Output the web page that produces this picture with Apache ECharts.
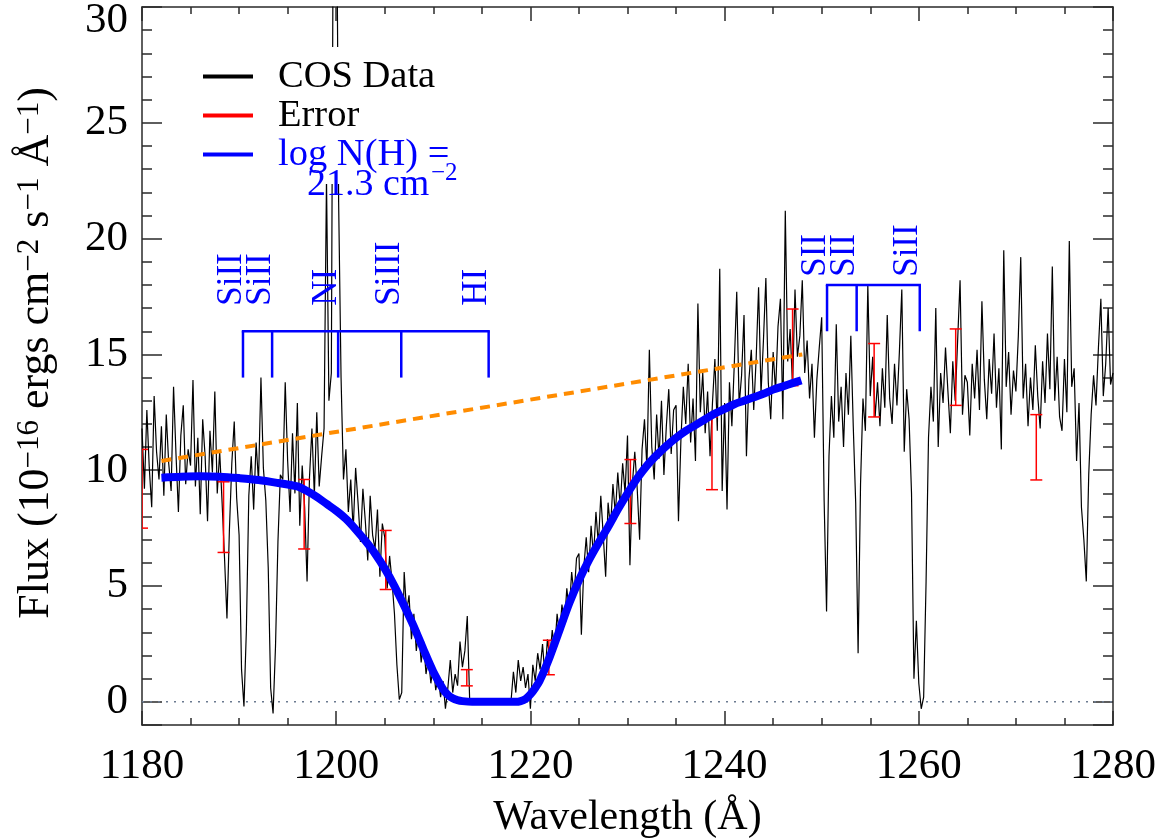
<!DOCTYPE html>
<html>
<head>
<meta charset="utf-8">
<script src="https://cdn.jsdelivr.net/npm/echarts@6/dist/echarts.min.js"></script>
<style>
html,body{margin:0;padding:0;background:#fff;}
#chart{width:1174px;height:840px;}
</style>
</head>
<body>
<div id="chart"></div>
<script>
// ---- COS spectrum: regular wavelength grid (Å) and flux values ----
const wavelengthStart = 1180;
const wavelengthStep = 0.25;
const cosFlux = [
  // 1180.00 - 1184.75
  11.8, 9.2, 12.6, 10.1, 8.4, 13.2, 10.8, 9.6, 11.9, 8.9, 12.4, 10.3, 9.1, 13.6, 10.7, 8.2, 11.5, 12.8, 9.4, 10.9,
  // 1185.00 - 1189.75
  10.2, 13.9, 9.3, 11.4, 8.1, 12.2, 10.6, 7.8, 11.7, 9.9, 13.4, 9.0, 10.8, 8.6, 6.2, 3.6, 7.4, 10.3, 12.1, 8.8,
  // 1190.00 - 1194.75
  7.2, 1.4, -0.2, 3.1, 8.9, 10.6, 8.3, 11.2, 9.5, 14.0, 10.1, 8.7, 5.8, 0.6, -0.5, 2.4, 6.9, 9.8, 9.6, 13.8,
  // 1195.00 - 1199.75
  10.4, 8.2, 11.6, 9.0, 12.9, 7.6, 10.2, 8.4, 5.2, 9.7, 11.8, 8.9, 12.5, 9.3, 10.6, 11.8, 22.6, 13.0, 14.2, 40.0,
  // 1200.00 - 1204.75
  38.0, 21.6, 14.0, 9.6, 10.9, 8.2, 9.6, 7.4, 10.1, 8.6, 6.9, 9.2, 7.8, 6.1, 8.9, 7.2, 6.6, 8.3, 5.4, 7.7,
  // 1205.00 - 1209.75
  7.1, 4.9, 6.3, 5.2, 3.8, 1.6, 0.1, 0.4, 5.6, 3.9, 4.6, 2.7, 3.8, 2.2, 3.1, 1.7, 2.6, 1.2, 1.9, 0.8,
  // 1210.00 - 1214.75
  1.6, 0.5, 1.1, 0.2, 0.9, -0.3, 0.6, 1.8, 0.4, 1.2, 0.7, 2.6, 1.5, 2.2, 3.7, 0, 0, 0, 0, 0,
  // 1215.00 - 1219.75
  0, 0, 0, 0, 0, 0, 0, 0, 0, 0, 0, 0, 0, 1.3, 0.4, 1.8, 0.9, 1.5, 0.6, 1.2,
  // 1220.00 - 1224.75
  -0.3, 1.6, 0.9, 2.1, 1.4, 2.5, 1.1, 2.7, 1.9, 3.1, 2.2, 3.8, 2.9, 4.2, 3.3, 4.9, 3.9, 5.6, 4.6, 6.2,
  // 1225.00 - 1229.75
  6.4, 2.9, 5.8, 7.1, 5.6, 7.6, 6.3, 8.2, 6.8, 8.9, 7.2, 5.4, 8.6, 7.5, 9.4, 8.1, 9.9, 8.4, 10.3, 9.0,
  // 1230.00 - 1234.75
  11.5, 5.9, 9.4, 10.8, 9.2, 7.0, 10.9, 12.2, 10.1, 15.2, 11.0, 9.6, 12.4, 10.5, 13.0, 9.8, 11.9, 13.5, 10.7, 12.6,
  // 1235.00 - 1239.75
  12.8, 7.8, 11.3, 13.6, 12.0, 14.6, 11.2, 13.1, 10.4, 17.2, 12.5, 14.2, 11.6, 13.4, 10.6, 12.9, 14.8, 11.7, 18.7, 9.1,
  // 1240.00 - 1244.75
  12.9, 8.3, 13.8, 11.9, 14.6, 17.7, 12.8, 14.1, 16.7, 10.6, 13.9, 15.2, 12.6, 14.8, 17.9, 13.3, 15.6, 18.3, 13.8, 12.2,
  // 1245.00 - 1249.75
  15.1, 13.4, 16.2, 17.4, 12.2, 21.2, 14.7, 16.1, 13.6, 17.8, 14.9, 15.8, 18.2, 14.2, 15.6, 13.1, 14.6, 11.4, 13.9, 15.3,
  // 1250.00 - 1254.75
  16.6, 8.7, 3.9, 10.6, 13.2, 11.4, 16.3, 12.1, 13.6, 11.0, 14.2, 12.4, 15.8, 11.9, 8.6, 2.1, 9.4, 13.1, 11.7, 18.0,
  // 1255.00 - 1259.75
  13.2, 14.9, 12.3, 13.8, 11.9, 14.4, 12.7, 16.7, 13.1, 12.0, 14.6, 12.8, 15.1, 17.8, 10.8, 13.5, 12.2, 9.0, 1.0, 3.5,
  // 1260.00 - 1264.75
  0.8, -0.3, 0.2, 5.2, 11.4, 13.6, 12.1, 17.0, 11.0, 14.2, 12.9, 15.3, 13.4, 11.6, 14.7, 13.0, 15.6, 18.2, 12.4, 14.1,
  // 1265.00 - 1269.75
  13.8, 11.5, 14.6, 13.1, 15.2, 12.6, 17.3, 13.9, 12.2, 14.8, 13.3, 15.9, 12.7, 14.4, 10.9, 19.5, 13.6, 15.1, 12.4, 14.3,
  // 1270.00 - 1274.75
  13.4, 15.8, 19.2, 13.1, 14.6, 11.9, 14.0, 12.6, 15.4, 13.2, 11.8, 14.7, 12.9, 15.9, 13.5, 18.8, 13.0, 14.9, 12.3, 11.7,
  // 1275.00 - 1280.00
  14.8, 12.5, 19.9, 13.6, 14.4, 10.4, 12.9, 8.4, 7.0, 5.2, 9.8, 12.4, 14.1, 12.8, 15.3, 17.4, 13.2, 14.6, 17.0, 13.7,
  14.2
];

// ---- Damped Lyman-alpha model, log N(H) = 21.3 ----
const modelWave = [1182, 1184, 1186, 1188, 1190, 1192, 1194, 1196, 1197, 1198, 1199, 1200, 1201, 1202, 1203, 1204,
  1205, 1206, 1207, 1208, 1209, 1210, 1211, 1211.5, 1212, 1212.5, 1213, 1214, 1216, 1218, 1218.5, 1219, 1219.5,
  1220, 1220.5, 1221, 1222, 1223, 1224, 1225, 1226, 1227, 1228, 1229, 1230, 1231, 1232, 1233, 1234, 1235, 1236,
  1237, 1238, 1239, 1240, 1241, 1242, 1243, 1244, 1245, 1246, 1247, 1247.9];
const modelFlux = [9.68, 9.72, 9.74, 9.72, 9.66, 9.58, 9.45, 9.3, 9.1, 8.85, 8.55, 8.25, 7.9, 7.45, 6.95, 6.4,
  5.75, 5.0, 4.15, 3.25, 2.25, 1.3, 0.55, 0.3, 0.15, 0.07, 0.03, 0, 0, 0, 0, 0.03, 0.12,
  0.32, 0.6, 0.95, 1.95, 3.1, 4.25, 5.25, 6.1, 6.85, 7.55, 8.3, 9.0, 9.65, 10.2, 10.65, 11.05, 11.4, 11.7,
  11.95, 12.2, 12.45, 12.65, 12.85, 13.0, 13.15, 13.3, 13.48, 13.62, 13.76, 13.88];

// ---- Unabsorbed continuum (dashed orange) ----
const continuumWave = [1182, 1248];
const continuumFlux = [10.4, 15.0];

// ---- Error bars ----
const errWave = [1180.0, 1188.4, 1196.7, 1205.1, 1213.45, 1221.9, 1230.3, 1238.7, 1247.0, 1255.4, 1263.8, 1272.1];
const errLow  = [7.5, 6.45, 6.6, 4.85, 0.69, 1.17, 7.7, 9.16, 13.65, 12.3, 12.8, 9.58];
const errHigh = [10.9, 9.5, 9.6, 7.4, 1.39, 2.66, 10.46, 12.3, 16.96, 15.47, 16.1, 12.4];

// ---- Zero level ----
const zeroWave = [1180, 1280];
const zeroFlux = [0, 0];

// ---- Line identifications ----
const leftIdWaves = [1190.4, 1193.4, 1200.2, 1206.7, 1215.7];
const leftIdLabels = ['SiII', 'SiII', 'NI', 'SiIII', 'HI'];
const leftIdLevels = [16, 14, 17.1];    // bracket, tick bottom, label base
const rightIdWaves = [1250.55, 1253.6, 1260.1];
const rightIdLabels = ['SII', 'SII', 'SiII'];
const rightIdLevels = [18, 16, 18.35];

// ---- Axis ticks ----
const xTickMin = 1180, xTickMax = 1280, xTickStep = 20;
const yMin = -1, yMax = 30;

const SERIF = '"Liberation Serif", "Times New Roman", serif';
const BLUE = '#0000ff';
const AXIS = '#2a2a2a';

const spectrum = cosFlux.map((f, i) => [wavelengthStart + i * wavelengthStep, f]);
const model = modelWave.map((w, i) => [w, modelFlux[i]]);
const continuum = continuumWave.map((w, i) => [w, continuumFlux[i]]);
const errData = errWave.map((w, i) => [w, errLow[i], errHigh[i]]);
const zeroData = zeroWave.map((w, i) => [w, zeroFlux[i]]);

function idSeries(waves, labels, levels) {
  const data = waves.map(w => [w, levels[0], levels[1], levels[2]]);
  return {
    type: 'custom', name: 'ids', silent: true, z: 6,
    encode: { x: 0, y: [1, 2] },
    data: data,
    renderItem: function (params, api) {
      const x = api.value(0), top = api.value(1), bot = api.value(2), lab = api.value(3);
      const p1 = api.coord([x, top]), p2 = api.coord([x, bot]), pl = api.coord([x, lab]);
      const children = [
        { type: 'line', shape: { x1: p1[0], y1: p1[1], x2: p2[0], y2: p2[1] },
          style: { stroke: BLUE, lineWidth: 2.5 } },
        { type: 'text', x: pl[0] + 6, y: pl[1], rotation: Math.PI / 2,
          style: { text: labels[params.dataIndex], fill: BLUE, font: '35px ' + SERIF,
                   align: 'left', verticalAlign: 'bottom' } }
      ];
      if (params.dataIndex === 0) {
        const pe = api.coord([waves[waves.length - 1], top]);
        children.push({ type: 'line', shape: { x1: p1[0] - 1.2, y1: p1[1], x2: pe[0] + 1.2, y2: pe[1] },
          style: { stroke: BLUE, lineWidth: 2.5 } });
      }
      return { type: 'group', children: children };
    }
  };
}

const axisLineStyle = { color: AXIS, width: 1.5 };
function xAxisCfg(pos, showLabels) {
  return {
    type: 'value', position: pos, min: xTickMin, max: xTickMax, interval: xTickStep,
    axisLine: { show: true, onZero: false, lineStyle: axisLineStyle },
    axisTick: { show: true, inside: true, length: 14, lineStyle: axisLineStyle },
    minorTick: { show: true, splitNumber: 4, length: 7, lineStyle: axisLineStyle },
    splitLine: { show: false }, minorSplitLine: { show: false },
    axisLabel: { show: showLabels, fontFamily: SERIF, fontSize: 43, color: '#000', margin: 20,
                 formatter: v => String(v) },
    name: showLabels ? 'Wavelength (Å)' : '',
    nameLocation: 'middle', nameGap: 72,
    nameTextStyle: { fontFamily: SERIF, fontSize: 42, color: '#000' }
  };
}
function yMajorCfg(pos, showLabels) {
  const cfg = {
    type: 'value', position: pos, min: yMin, max: yMax,
    axisLine: { show: true, onZero: false, lineStyle: axisLineStyle },
    axisTick: { show: true, inside: true, length: 20, lineStyle: axisLineStyle },
    minorTick: { show: false },
    splitLine: { show: false },
    axisLabel: { show: showLabels, fontFamily: SERIF, fontSize: 43, color: '#000', margin: 14,
                 formatter: v => (v < 0 ? '' : (v >= yMax ? '{top|' + v + '}' : String(Math.abs(v)))),
                 rich: { top: { fontFamily: SERIF, fontSize: 43, color: '#000', padding: [27, 0, 0, 0] } } }
  };
  if (showLabels) {
    cfg.name = '{m|Flux (10}{s|−16}{m| ergs cm}{s|−2}{m| s}{s|−1}{m| Å}{s|−1}{m|)}';
    cfg.nameLocation = 'middle';
    cfg.nameRotate = 90;
    cfg.nameGap = 84;
    cfg.nameTextStyle = {
      fontFamily: SERIF, color: '#000', padding: [0, 0, 0, 26],
      rich: {
        m: { fontFamily: SERIF, fontSize: 44, lineHeight: 44, verticalAlign: 'bottom', color: '#000' },
        s: { fontFamily: SERIF, fontSize: 31, lineHeight: 31, verticalAlign: 'top', padding: [0, 0, 24, 0], color: '#000' }
      }
    };
  }
  return cfg;
}
function yMinorCfg(pos) {
  return {
    type: 'value', position: pos, min: yMin, max: yMax, interval: 1,
    axisLine: { show: false },
    axisTick: { show: true, inside: true, length: 10, lineStyle: axisLineStyle },
    axisLabel: { show: false }, splitLine: { show: false }
  };
}

const chart = echarts.init(document.getElementById('chart'), null, { renderer: 'canvas' });
chart.setOption({
  animation: false,
  backgroundColor: '#ffffff',
  grid: { left: 142, right: 61, top: 7, bottom: 115, containLabel: false, outerBoundsMode: 'none' },
  xAxis: [xAxisCfg('bottom', true), xAxisCfg('top', false)],
  yAxis: [yMajorCfg('left', true), yMinorCfg('left'), yMajorCfg('right', false), yMinorCfg('right')],
  legend: {
    data: [
      { name: 'COS Data' },
      { name: 'Error' },
      { name: 'log N(H) =', textStyle: { color: BLUE } }
    ],
    orient: 'vertical', left: 193, top: 47, padding: [10, 10, 10, 10],
    backgroundColor: '#ffffff', itemGap: 0, selectedMode: false,
    icon: 'rect', itemWidth: 50, itemHeight: 4,
    textStyle: { fontFamily: SERIF, fontSize: 38.5, color: '#000', lineHeight: 39, padding: [0, 0, 0, 20] }
  },
  graphic: [
    { type: 'text', x: 307, y: 185, z: 100, silent: true,
      style: { text: '21.3 cm', fill: BLUE, font: '38px ' + SERIF, align: 'left', verticalAlign: 'middle' } },
    { type: 'text', x: 431, y: 173, z: 100, silent: true,
      style: { text: '−2', fill: BLUE, font: '25px ' + SERIF, align: 'left', verticalAlign: 'middle' } }
  ],
  series: [
    { type: 'line', name: 'zero', data: zeroData, showSymbol: false, silent: true, z: 1,
      lineStyle: { color: '#6b7a90', width: 1.5, type: [2, 6] } },
    { type: 'line', name: 'COS Data', data: spectrum, showSymbol: false, silent: true, z: 2,
      itemStyle: { color: '#000' }, lineStyle: { color: '#000', width: 1.2 } },
    { type: 'custom', name: 'Error', data: errData, silent: true, clip: true, z: 3,
      encode: { x: 0, y: [1, 2] },
      itemStyle: { color: '#ff0000' },
      renderItem: function (params, api) {
        const x = api.value(0), lo = api.value(1), hi = api.value(2);
        const a = api.coord([x, hi]), b = api.coord([x, lo]);
        const w = 6;
        const st = { stroke: '#ff0000', lineWidth: 1.5 };
        return { type: 'group', children: [
          { type: 'line', shape: { x1: a[0], y1: a[1], x2: b[0], y2: b[1] }, style: st },
          { type: 'line', shape: { x1: a[0] - w, y1: a[1], x2: a[0] + w, y2: a[1] }, style: st },
          { type: 'line', shape: { x1: b[0] - w, y1: b[1], x2: b[0] + w, y2: b[1] }, style: st }
        ] };
      }
    },
    { type: 'line', name: 'continuum', data: continuum, showSymbol: false, silent: true, z: 4,
      lineStyle: { color: '#ff8c00', width: 4, type: [10, 7] } },
    { type: 'line', name: 'log N(H) =', data: model, showSymbol: false, silent: true, z: 5, smooth: 0.3,
      itemStyle: { color: BLUE }, lineStyle: { color: BLUE, width: 8 } },
    idSeries(leftIdWaves, leftIdLabels, leftIdLevels),
    idSeries(rightIdWaves, rightIdLabels, rightIdLevels)
  ]
});
</script>
</body>
</html>
